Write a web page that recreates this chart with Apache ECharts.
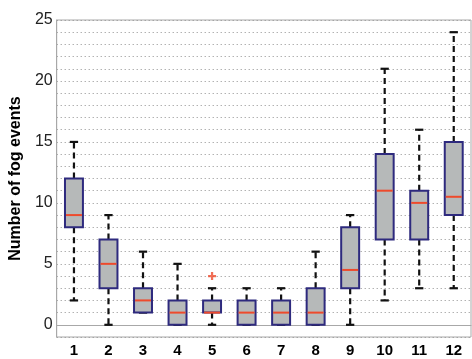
<!DOCTYPE html>
<html>
<head>
<meta charset="utf-8">
<script src="https://cdn.jsdelivr.net/npm/echarts@6/dist/echarts.min.js"></script>
<style>
html,body{margin:0;padding:0;background:#fff;}
#chart{width:472px;height:359px;}
</style>
</head>
<body>
<div id="chart"></div>
<script>
var categories = ['1','2','3','4','5','6','7','8','9','10','11','12'];
var lowWhisker = [2, 0, 1, 0, 0, 0, 0, 0, 0, 2, 3, 3];
var q1Values   = [8, 3, 1, 0, 1, 0, 0, 0, 3, 7, 7, 9];
var medians    = [9, 5, 2, 1, 1, 1, 1, 1, 4.5, 11, 10, 10.5];
var q3Values   = [12, 7, 3, 2, 2, 2, 2, 3, 8, 14, 11, 15];
var highWhisker= [15, 9, 6, 5, 3, 3, 3, 6, 9, 21, 16, 24];
var outliers   = [['5', 4]];
var yTickLabels = [0, 5, 10, 15, 20, 25];

var boxData = categories.map(function(c, i){
  return [i, lowWhisker[i], q1Values[i], medians[i], q3Values[i], highWhisker[i]];
});

var chart = echarts.init(document.getElementById('chart'));
var FONT = '"Liberation Sans", Arial, Helvetica, sans-serif';

function renderBox(params, api){
  var idx = api.value(0);
  var pLow = api.coord([idx, api.value(1)]);
  var pQ1 = api.coord([idx, api.value(2)]);
  var pMed = api.coord([idx, api.value(3)]);
  var pQ3 = api.coord([idx, api.value(4)]);
  var pHigh = api.coord([idx, api.value(5)]);
  var band = api.size([1, 0])[0];
  var bw = band * 0.52;
  var cw = band * 0.24;
  var x = pQ1[0];
  var children = [];
  var dashStyle = {stroke:'#111', lineWidth:2.2, lineDash:[6,4]};
  if (pQ3[1] - pHigh[1] > 0.5) {
    children.push({type:'line', shape:{x1:x, y1:pQ3[1], x2:x, y2:pHigh[1]}, style:dashStyle});
  }
  if (pLow[1] - pQ1[1] > 0.5) {
    children.push({type:'line', shape:{x1:x, y1:pQ1[1], x2:x, y2:pLow[1]}, style:dashStyle});
  }
  children.push({type:'line', shape:{x1:x-cw/2, y1:pHigh[1], x2:x+cw/2, y2:pHigh[1]}, style:{stroke:'#111', lineWidth:2.2}});
  children.push({type:'line', shape:{x1:x-cw/2, y1:pLow[1], x2:x+cw/2, y2:pLow[1]}, style:{stroke:'#111', lineWidth:2.2}});
  children.push({type:'rect', shape:{x:x-bw/2, y:pQ3[1], width:bw, height:pQ1[1]-pQ3[1]},
    style:{fill:'#b6b9b9', stroke:'#2e2a7e', lineWidth:2}});
  children.push({type:'line', shape:{x1:x-bw/2+1, y1:pMed[1], x2:x+bw/2-1, y2:pMed[1]}, style:{stroke:'#ee4a2c', lineWidth:2}});
  return {type:'group', children:children};
}

chart.setOption({
  animation:false,
  backgroundColor:'#fff',
  grid:{left:53, right:1, top:20, bottom:22, show:true, borderColor:'#a8a8a8', borderWidth:1},
  xAxis:{
    type:'category', data:categories, boundaryGap:true,
    axisLine:{lineStyle:{color:'#a8a8a8', width:1}},
    axisTick:{show:false},
    axisLabel:{color:'#000', fontWeight:'bold', fontSize:15, fontFamily:FONT, margin:6},
    splitLine:{show:false}
  },
  yAxis:{
    type:'value', min:-1, max:25, interval:1,
    name:'Number of fog events', nameLocation:'middle', nameGap:28,
    nameTextStyle:{color:'#000', fontWeight:'bold', fontSize:16, fontFamily:FONT},
    axisLine:{show:true, lineStyle:{color:'#a8a8a8', width:1}},
    axisTick:{show:false},
    axisLabel:{color:'#222', fontSize:16, fontFamily:FONT, margin:4,
      formatter:function(v){ return yTickLabels.indexOf(v) >= 0 ? String(v) : ''; }},
    splitLine:{show:true, lineStyle:{color:'#8f8f8f', type:[1,3], width:1}}
  },
  series:[
    {type:'custom', renderItem:renderBox, data:boxData, encode:{x:0, y:[1,2,3,4,5]}, z:3},
    {type:'scatter', data:outliers, symbol:'path://M3.6,0L6.4,0L6.4,3.6L10,3.6L10,6.4L6.4,6.4L6.4,10L3.6,10L3.6,6.4L0,6.4L0,3.6L3.6,3.6Z',
      symbolSize:8, itemStyle:{color:'#ee4a2c'}, z:4}
  ]
});
</script>
</body>
</html>
